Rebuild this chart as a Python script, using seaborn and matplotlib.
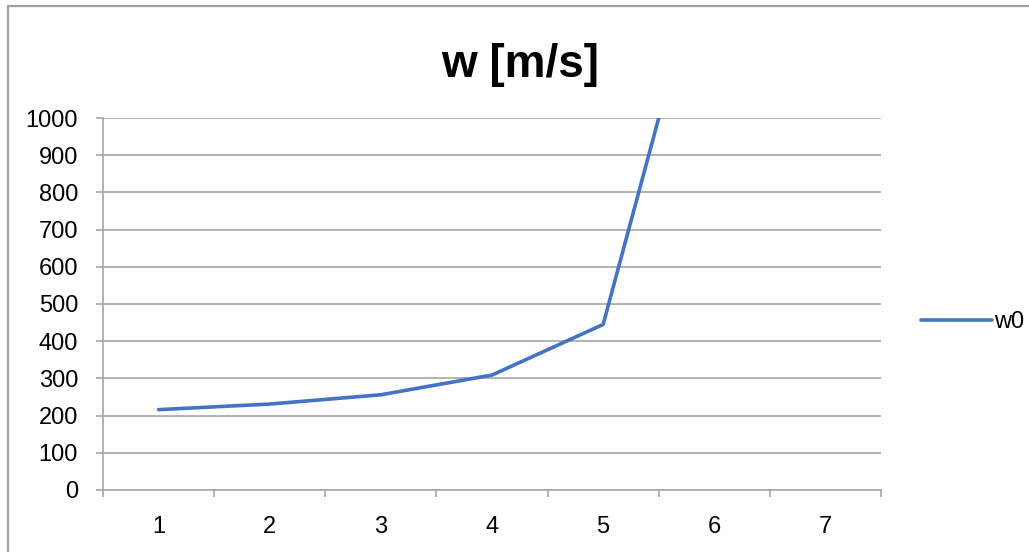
import numpy as np
import pandas as pd
import matplotlib
matplotlib.use("Agg")
import matplotlib.pyplot as plt
import seaborn as sns
from matplotlib.lines import Line2D

# ── Data ──────────────────────────────────────────────────────────────────
categories = [1, 2, 3, 4, 5, 6, 7]
w0 = [216, 231, 256, 309, 445, 1555, np.nan]

df = pd.DataFrame({"idx": np.arange(len(categories)), "w0": w0})

sns.set_style("white")
plt.rcParams["font.family"] = ["Liberation Sans", "DejaVu Sans"]
plt.rcParams["text.color"] = "black"
plt.rcParams["xtick.color"] = "black"
plt.rcParams["ytick.color"] = "black"

BLUE = "#4472C4"
GRID = "#a6a6a6"

fig = plt.figure(figsize=(10.29, 5.52), dpi=100)
ax = fig.add_axes([103 / 1029, 62 / 552, 778 / 1029, 372 / 552])

sns.lineplot(data=df, x="idx", y="w0", ax=ax, color=BLUE, linewidth=2.6,
             label="w0", legend=False)

ax.set_xlim(-0.5, len(categories) - 0.5)
ax.set_ylim(0, 1000)
ax.set_yticks(np.arange(0, 1001, 100))
ax.set_xticks(np.arange(len(categories)))
ax.set_xticklabels([str(c) for c in categories])
ax.set_xlabel("")
ax.set_ylabel("")

# category boundary ticks like Excel
ax.set_xticks(np.arange(len(categories) + 1) - 0.5, minor=True)
ax.tick_params(axis="x", which="major", bottom=False, length=0, pad=19,
               labelsize=17, labelcolor="black")
ax.tick_params(axis="x", which="minor", bottom=True, length=5, color=GRID,
               width=1.2, direction="out")
ax.tick_params(axis="y", left=True, length=5, color=GRID, width=1.2,
               labelsize=17, pad=13, labelcolor="black", direction="out")

ax.grid(axis="y", color=GRID, linewidth=1.2)
ax.grid(axis="x", visible=False)
for s in ["top", "right"]:
    ax.spines[s].set_visible(False)
for s in ["left", "bottom"]:
    ax.spines[s].set_color(GRID)
    ax.spines[s].set_linewidth(1.2)

fig.text(0.505, 0.882, "w [m/s]", ha="center", va="center",
         fontsize=33, fontweight="bold", color="black")

handle = Line2D([], [], color=BLUE, linewidth=2.6)
fig.legend([handle], ["w0"], loc="center left",
           bbox_to_anchor=(900 / 1029, 1 - 322 / 552), frameon=False,
           fontsize=17, handlelength=3.0, handletextpad=0.1, labelcolor="black")

# chart frame (top and left edges visible)
fig.add_artist(Line2D([7.5 / 1029, 7.5 / 1029], [0, 1 - 6 / 552],
                      transform=fig.transFigure, color="#a0a0a0", linewidth=1.6))
fig.add_artist(Line2D([7.5 / 1029, 1], [1 - 6 / 552, 1 - 6 / 552],
                      transform=fig.transFigure, color="#a0a0a0", linewidth=1.6))

fig.savefig("out.png", dpi=100)
